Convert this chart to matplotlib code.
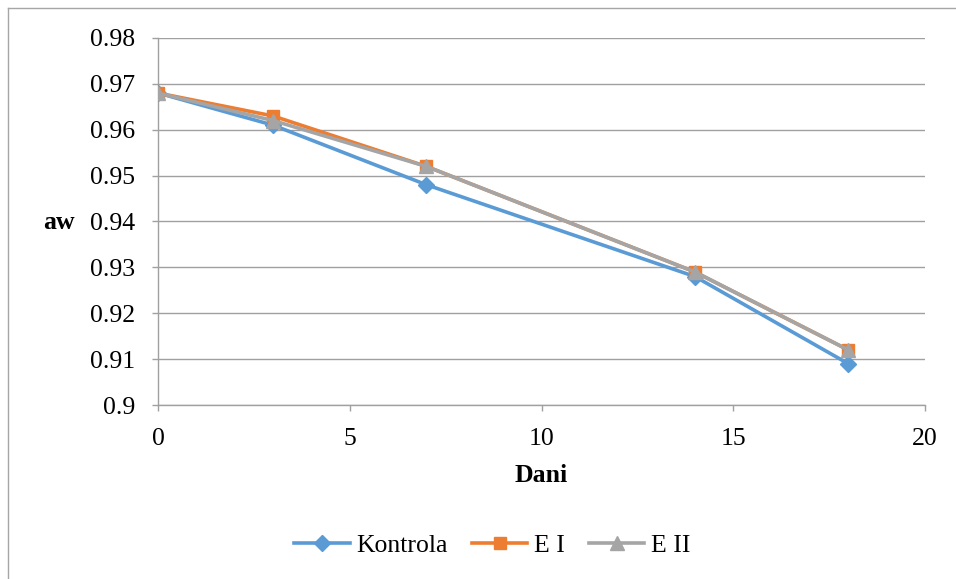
import matplotlib.pyplot as plt
from matplotlib.lines import Line2D

# Vrijednosti aw po danima
dani = [0, 3, 7, 14, 18]
kontrola = [0.968, 0.961, 0.948, 0.928, 0.909]
e_i = [0.968, 0.963, 0.952, 0.929, 0.912]
e_ii = [0.968, 0.962, 0.952, 0.929, 0.912]

plt.rcParams['font.family'] = ['Liberation Serif', 'DejaVu Serif']

fig = plt.figure(figsize=(9.56, 5.79), dpi=100)
ax = fig.add_axes([0.1653, 0.3005, 0.8023, 0.6339])

ax.plot(dani, kontrola, color='#5B9BD5', lw=2.6, marker='D', ms=8,
        label='Kontrola', zorder=3)
ax.plot(dani, e_i, color='#ED7D31', lw=2.6, marker='s', ms=8.5,
        label='E I', zorder=4)
ax.plot(dani, e_ii, color='#A5A5A5', lw=2.6, marker='^', ms=9.5,
        label='E II', zorder=5)

ax.set_xlim(0, 20)
ax.set_ylim(0.9, 0.98)
ax.set_xticks([0, 5, 10, 15, 20])
ax.set_yticks([0.9 + 0.01 * i for i in range(9)])
ax.set_yticklabels(['0.9', '0.91', '0.92', '0.93', '0.94', '0.95', '0.96', '0.97', '0.98'])

ax.grid(axis='y', color='#a0a0a0', lw=1.0)
ax.set_axisbelow(True)
for s in ['top', 'right']:
    ax.spines[s].set_visible(False)
for s in ['left', 'bottom']:
    ax.spines[s].set_color('#a0a0a0')
    ax.spines[s].set_linewidth(1.0)
ax.tick_params(axis='both', colors='#a0a0a0', labelcolor='black',
               labelsize=18.5, length=4.3, width=1.0)
ax.tick_params(axis='y', pad=12)
ax.tick_params(axis='x', pad=12)

ax.set_ylabel('aw', fontsize=18.5, fontweight='bold', rotation=0,
              ha='center', va='center')
ax.yaxis.set_label_coords(-0.129, 0.4986)
ax.set_xlabel('Dani', fontsize=18.5, fontweight='bold', va='center')
ax.xaxis.set_label_coords(0.4994, -0.193)

fig.legend(loc='center', bbox_to_anchor=(0.515, 0.057), ncol=3,
           frameon=False, fontsize=18.5, handlelength=2.15,
           handletextpad=0.25, columnspacing=0.95)

# okvir grafikona
fig.add_artist(Line2D([7.5 / 956, 1.0], [1 - 7.5 / 579] * 2,
                      transform=fig.transFigure, color='#a6a6a6', lw=1.0))
fig.add_artist(Line2D([7.5 / 956] * 2, [0.0, 1 - 7.5 / 579],
                      transform=fig.transFigure, color='#a6a6a6', lw=1.0))

fig.savefig('out.png', dpi=100)
